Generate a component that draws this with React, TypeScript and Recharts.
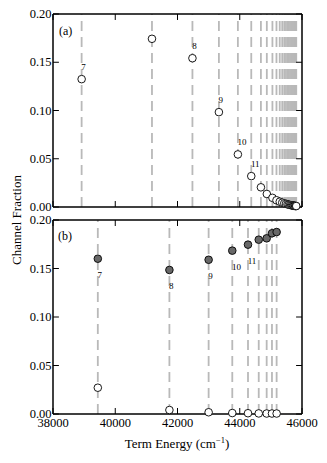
import React from "react";
import { ScatterChart, Scatter, XAxis, YAxis, ReferenceLine } from "recharts";

// axes
const xTicks = [38000, 40000, 42000, 44000, 46000];
const yTicks = [0, 0.05, 0.1, 0.15, 0.2];
const xDomain = [38000, 46000];
const yDomain = [0, 0.2];

// panel (a)
const topEnergy = [
  38920, 41180, 42480, 43330, 43940, 44370, 44680, 44870, 45050, 45180, 45285,
  45365, 45430, 45485, 45535, 45575, 45615, 45650, 45680, 45710, 45735, 45760,
  45780, 45800, 45815,
];
const topFraction = [
  0.1325, 0.1743, 0.1542, 0.0983, 0.0545, 0.032, 0.0204, 0.0135, 0.0095, 0.007,
  0.0055, 0.0045, 0.0038, 0.0032, 0.0028, 0.0024, 0.0021, 0.0019, 0.0017, 0.0015,
  0.0013, 0.0012, 0.0011, 0.001, 0.001,
];
const topLabels = ["7", "", "8", "9", "10", "11"];

// panel (b)
const bottomEnergy = [39440, 41740, 43000, 43760, 44265, 44610, 44865, 45035, 45185];
const bottomFilled = [0.1601, 0.1485, 0.159, 0.1684, 0.1746, 0.1797, 0.1811, 0.1863, 0.1876];
const bottomOpen = [0.0271, 0.0041, 0.0018, 0.001, 0.0008, 0.0006, 0.0005, 0.0005, 0.0005];
const bottomLabels = ["7", "8", "9", "10", "11"];

const FONT = '"Liberation Serif", "DejaVu Serif", serif';
const LINE_GRAY = "#b9b9b9";

// inward tick length, in axis units (~6px)
const TICK_X = 190;
const TICK_Y = 0.0062;

const leftTick = (props: any) => (
  <text
    x={Number(props.x) + 2.5}
    y={Number(props.y) + 4}
    textAnchor="end"
    fontSize={12.5}
    fontFamily={FONT}
    fill="black"
  >
    {props.payload.value.toFixed(2)}
  </text>
);

const bottomTick = (props: any) => (
  <text
    x={props.x}
    y={Number(props.y) + 9.3}
    textAnchor="middle"
    fontSize={12.5}
    fontFamily={FONT}
    fill="black"
  >
    {props.payload.value}
  </text>
);

const noTick = () => <g />;

const makeDot = (fill: string, labelDy: number) => (props: any) => {
  const { cx, cy, payload } = props;
  return (
    <g>
      <circle cx={cx} cy={cy} r={3.8} fill={fill} stroke="black" strokeWidth={0.9} />
      {payload && payload.label ? (
        <text x={cx - 0.3} y={cy + labelDy} fontSize={9} fontFamily={FONT} fill="black">
          {payload.label}
        </text>
      ) : null}
    </g>
  );
};

const axes = (xLabels: boolean, bottomHeight: number) => [
  <XAxis
    key="xb"
    type="number"
    dataKey="e"
    domain={xDomain}
    ticks={xTicks}
    interval={0}
    height={bottomHeight}
    tickSize={-5.5}
    tickMargin={9.5}
    tickLine={false}
    axisLine={false}
    tick={xLabels ? bottomTick : noTick}
  />,
  <YAxis
    key="yl"
    type="number"
    dataKey="f"
    domain={yDomain}
    ticks={yTicks}
    interval={0}
    width={53}
    tickSize={-5.5}
    tickMargin={9.5}
    tickLine={false}
    axisLine={false}
    tick={leftTick}
  />,
];

// frame at the domain edges plus matplotlib-style inward ticks on all four sides
const frame = () => [
  ...xTicks.flatMap((t) => [
    <ReferenceLine
      key={"tb" + t}
      segment={[{ x: t, y: yDomain[0] }, { x: t, y: yDomain[0] + TICK_Y }]}
      ifOverflow="visible"
      stroke="black"
      strokeWidth={1}
    />,
    <ReferenceLine
      key={"tt" + t}
      segment={[{ x: t, y: yDomain[1] }, { x: t, y: yDomain[1] - TICK_Y }]}
      ifOverflow="visible"
      stroke="black"
      strokeWidth={1}
    />,
  ]),
  ...yTicks.flatMap((t) => [
    <ReferenceLine
      key={"tl" + t}
      segment={[{ x: xDomain[0], y: t }, { x: xDomain[0] + TICK_X, y: t }]}
      ifOverflow="visible"
      stroke="black"
      strokeWidth={1}
    />,
    <ReferenceLine
      key={"tr" + t}
      segment={[{ x: xDomain[1], y: t }, { x: xDomain[1] - TICK_X, y: t }]}
      ifOverflow="visible"
      stroke="black"
      strokeWidth={1}
    />,
  ]),
  ...xDomain.map((v) => <ReferenceLine key={"fx" + v} x={v} stroke="black" strokeWidth={1.5} />),
  ...yDomain.map((v) => <ReferenceLine key={"fy" + v} y={v} stroke="black" strokeWidth={1.5} />),
];

const refLines = (energies: number[]) =>
  energies.map((e) => (
    <ReferenceLine
      key={e}
      x={e}
      stroke={LINE_GRAY}
      strokeWidth={1.8}
      strokeDasharray="10 6"
    />
  ));

const topData = topEnergy.map((e, i) => ({ e, f: topFraction[i], label: topLabels[i] || "" }));
const filledData = bottomEnergy.map((e, i) => ({ e, f: bottomFilled[i], label: bottomLabels[i] || "" }));
const openData = bottomEnergy.map((e, i) => ({ e, f: bottomOpen[i], label: "" }));

export default function App() {
  return (
    <div
      style={{
        position: "absolute",
        left: 0,
        top: 0,
        width: 327,
        height: 463,
        background: "#fff",
        fontFamily: FONT,
      }}
    >
      <div style={{ position: "absolute", left: 0, top: 0 }}>
        <ScatterChart width={327} height={216} margin={{ top: 14, right: 25, bottom: 9, left: 0 }}>
          {axes(false, 0)}
          {refLines(topEnergy)}
          {frame()}
          <Scatter data={topData} isAnimationActive={false} shape={makeDot("#fff", -9.5)} />
        </ScatterChart>
      </div>
      <div style={{ position: "absolute", left: 0, top: 210 }}>
        <ScatterChart width={327} height={253} margin={{ top: 10, right: 25, bottom: 29, left: 0 }}>
          {axes(true, 20)}
          {refLines(bottomEnergy)}
          {frame()}
          <Scatter data={openData} isAnimationActive={false} shape={makeDot("#fff", 0)} />
          <Scatter data={filledData} isAnimationActive={false} shape={makeDot("#686868", 19.5)} />
        </ScatterChart>
      </div>
      <svg
        width={327}
        height={463}
        style={{ position: "absolute", left: 0, top: 0, pointerEvents: "none" }}
      >
        <text x={59} y={35} fontSize={12} fontFamily={FONT}>
          (a)
        </text>
        <text x={58} y={240} fontSize={12} fontFamily={FONT}>
          (b)
        </text>
        <text
          x={0}
          y={0}
          transform="translate(21,220) rotate(-90)"
          textAnchor="middle"
          fontSize={13}
          fontFamily={FONT}
        >
          Channel Fraction
        </text>
        <text x={177} y={448} textAnchor="middle" fontSize={13} fontFamily={FONT}>
          Term Energy (cm
          <tspan dy={-5} fontSize={8.5}>
            −1
          </tspan>
          <tspan dy={5}>)</tspan>
        </text>
      </svg>
    </div>
  );
}
